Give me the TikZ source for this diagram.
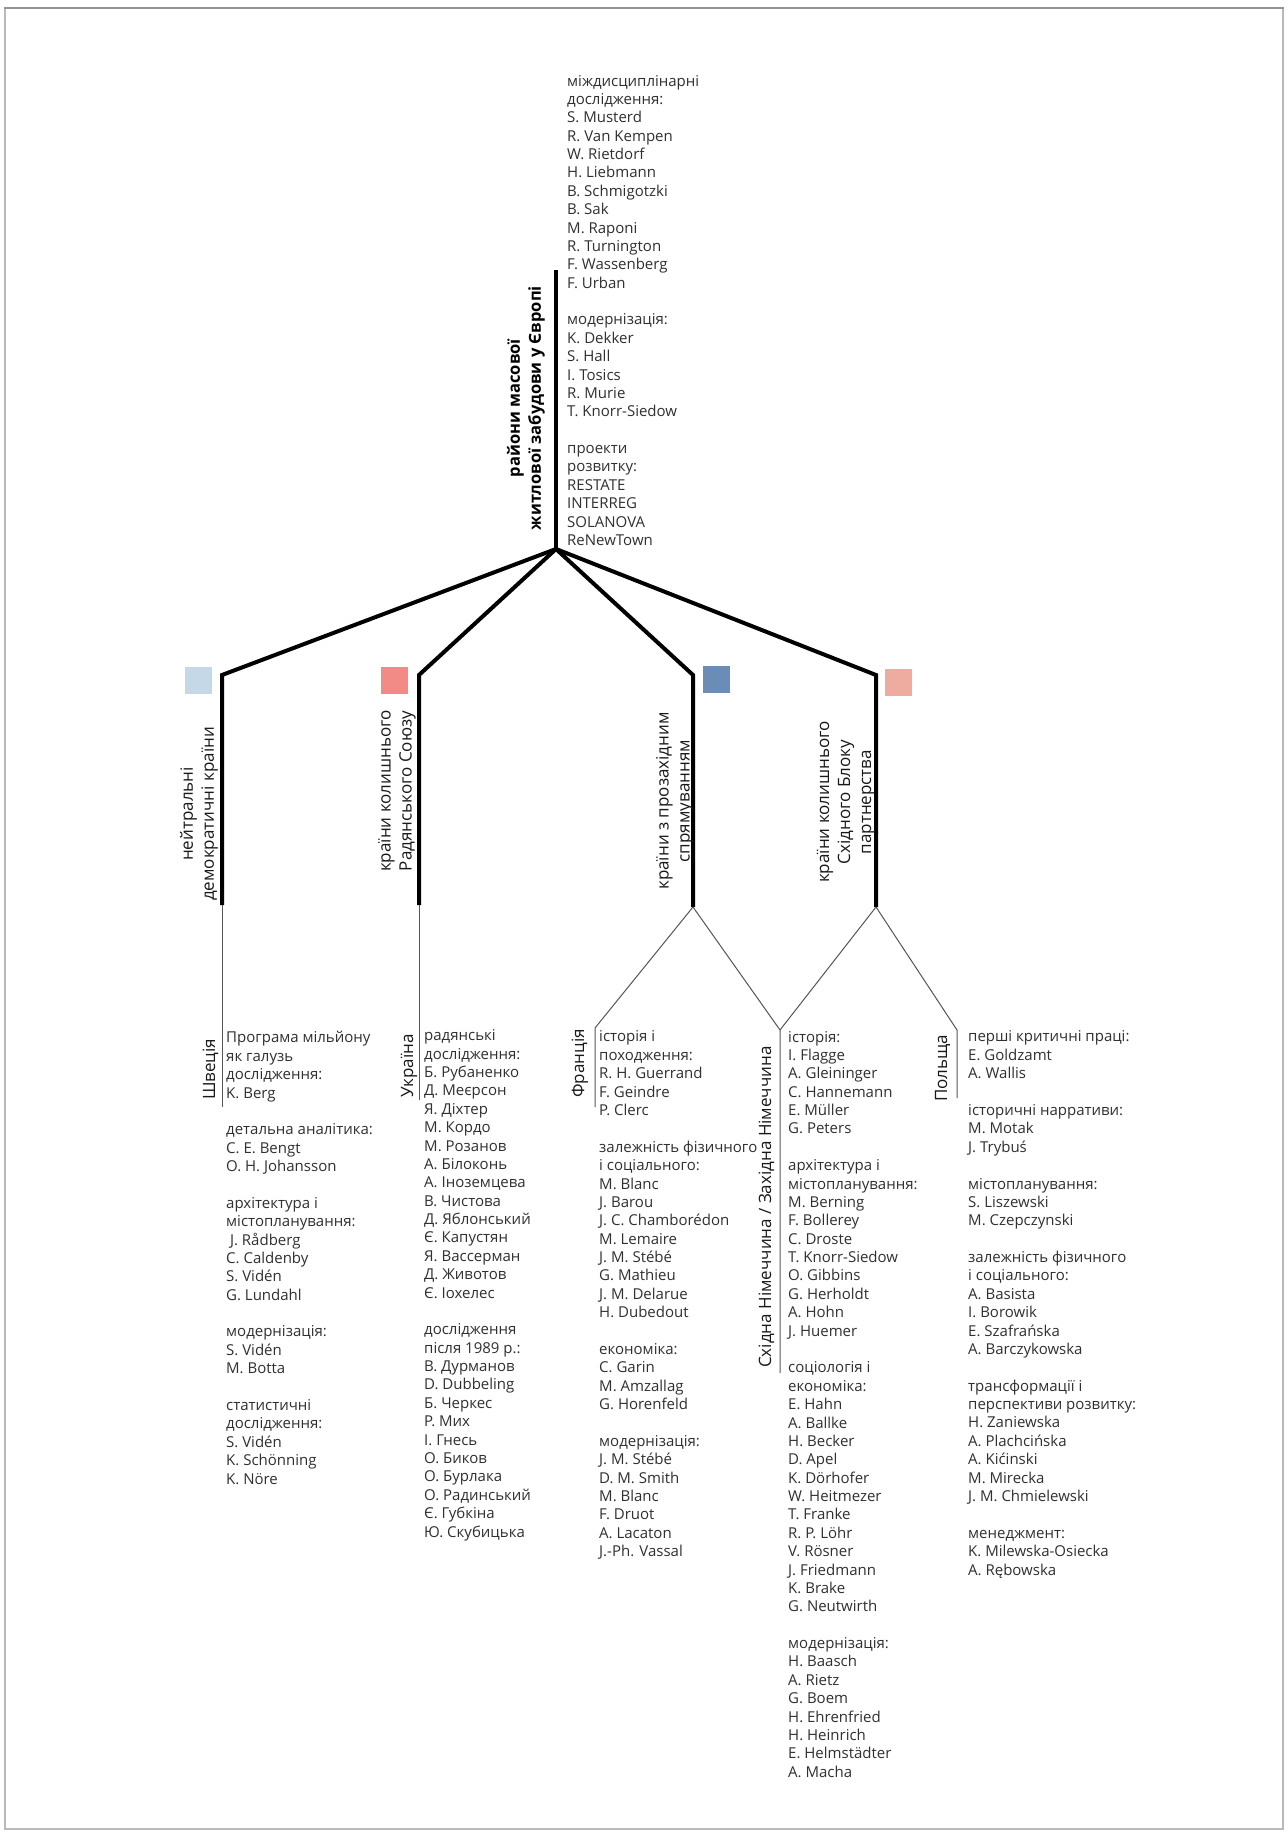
\documentclass[tikz,border=0pt]{standalone}
\usepackage{fontspec}
\setmainfont{Open Sans}
\newcommand\mylistfont{\fontsize{15}{18.38}\selectfont}
\newcommand\mylabelfont{\fontsize{17}{21}\selectfont}
\newcommand\mytitlefont{\fontsize{16.5}{21}\selectfont\bfseries}
\definecolor{txt}{HTML}{303030}
\definecolor{sqA}{HTML}{C5D8E8}
\definecolor{sqB}{HTML}{F28A85}
\definecolor{sqC}{HTML}{6B8CB6}
\definecolor{sqD}{HTML}{EEABA0}
\definecolor{thinc}{HTML}{555555}
\tikzset{
  lst/.style={anchor=base west, align=left, inner sep=0pt, font=\mylistfont, text=txt},
  grp/.style={rotate=90, align=center, inner sep=0pt, font=\mylabelfont, text=black!90},
  sub/.style={rotate=90, anchor=base west, inner sep=0pt, font=\mylabelfont, text=black!90},
  thickline/.style={line width=4pt, black, line join=miter, line cap=butt},
  thinline/.style={line width=1pt, thinc},
  sq/.style={draw=none, minimum size=27pt, inner sep=0pt},
}
\begin{document}
\begin{tikzpicture}[x=1pt,y=-1pt]
\useasboundingbox (0,0) rectangle (1287,1833);
\fill[white] (0,0) rectangle (1287,1833);
\draw[gray!55, line width=1.2pt] (5,8) rectangle (1283,1829);
\draw[gray!85, line width=2pt] (4,8) -- (1284,8);

% trunk and hubs
\coordinate (trunkTop) at (556,270);
\coordinate (hub) at (556,549);
\coordinate (c1) at (222,675); \coordinate (e1) at (222,905);
\coordinate (c2) at (419,675); \coordinate (e2) at (419,905);
\coordinate (c3) at (693,675); \coordinate (e3) at (693,907);
\coordinate (c4) at (876,675); \coordinate (e4) at (876,907);

\draw[thickline] (trunkTop) -- (hub);
\draw[thickline] (hub) -- (c1) -- (e1);
\draw[thickline] (hub) -- (c2) -- (e2);
\draw[thickline] (hub) -- (c3) -- (e3);
\draw[thickline] (hub) -- (c4) -- (e4);

% sub-branches
\coordinate (swEnd) at (222,1107);
\coordinate (uaEnd) at (419,1100);
\coordinate (frTop) at (595,1028); \coordinate (frEnd) at (595,1107);
\coordinate (deTop) at (780,1030); \coordinate (deEnd) at (780,1373);
\coordinate (plTop) at (957,1030); \coordinate (plEnd) at (957,1098);

\draw[thinline] (e1) -- (swEnd);
\draw[thinline] (e2) -- (uaEnd);
\draw[thinline] (e3) -- (frTop) -- (frEnd);
\draw[thinline] (e3) -- (deTop) -- (deEnd);
\draw[thinline] (e4) -- (deTop);
\draw[thinline] (e4) -- (plTop) -- (plEnd);

% title
\node[rotate=90, align=center, inner sep=0pt, font=\mytitlefont] (title) at (526,408)
  {райони масової\\житлової забудови у Європі};

% coloured squares
\node[sq, fill=sqA, anchor=north west] (sq1) at (185,667) {};
\node[sq, fill=sqB, anchor=north west] (sq2) at (381,667) {};
\node[sq, fill=sqC, anchor=north west] (sq3) at (703,666) {};
\node[sq, fill=sqD, anchor=north west] (sq4) at (885,669) {};

% group labels
\node[grp] (g1) at (199,814) {нейтральні\\демократичні країни};
\node[grp] (g2) at (397,791) {країни колишнього\\Радянського Союзу};
\node[grp] (g3) at (675,801) {країни з прозахідним\\спрямуванням};
\node[grp] (g4) at (846,802) {країни колишнього\\Східного Блоку\\партнерства};

% country labels
\node[sub] (lsw) at (215,1100) {Швеція};
\node[sub] (lua) at (413,1098) {Україна};
\node[sub] (lfr) at (584,1098) {Франція};
\node[sub] (lde) at (771,1368) {Східна Німеччина / Західна Німеччина};
\node[sub] (lpl) at (947,1102) {Польща};

% lists (anchor = baseline of the LAST line)
% top list
\node[lst] (toplist) at (567,545.5) {міждисциплінарні\\дослідження:\\S. Musterd\\R. Van Kempen\\W. Rietdorf\\H. Liebmann\\B. Schmigotzki\\B. Sak\\M. Raponi\\R. Turnington\\F. Wassenberg\\F. Urban\\[18.38pt]модернізація:\\K. Dekker\\S. Hall\\I. Tosics\\R. Murie\\T. Knorr-Siedow\\[18.38pt]проекти\\розвитку:\\RESTATE\\INTERREG\\SOLANOVA\\ReNewTown};

% Sweden
\node[lst] (swlist) at (226,1484) {Програма мільйону\\як галузь\\дослідження:\\K. Berg\\[18.38pt]детальна аналітика:\\C. E. Bengt\\O. H. Johansson\\[18.38pt]архітектура і\\містопланування:\\\ J. Rådberg\\C. Caldenby\\S. Vidén\\G. Lundahl\\[18.38pt]модернізація:\\S. Vidén\\M. Botta\\[18.38pt]статистичні\\дослідження:\\S. Vidén\\K. Schönning\\K. Nöre};

% Ukraine
\node[lst] (ualist) at (424,1537) {радянські\\дослідження:\\Б. Рубаненко\\Д. Меєрсон\\Я. Діхтер\\М. Кордо\\М. Розанов\\А. Білоконь\\А. Іноземцева\\В. Чистова\\Д. Яблонський\\Є. Капустян\\Я. Вассерман\\Д. Животов\\Є. Іохелес\\[18.38pt]дослідження\\після 1989 р.:\\В. Дурманов\\D. Dubbeling\\Б. Черкес\\Р. Мих\\І. Гнесь\\О. Биков\\О. Бурлака\\О. Радинський\\Є. Губкіна\\Ю. Скубицька};

% France
\node[lst] (frlist) at (599,1556.6) {історія і\\походження:\\R. H. Guerrand\\F. Geindre\\P. Clerc\\[18.38pt]залежність фізичного\\і соціального:\\M. Blanc\\J. Barou\\J. C. Chamborédon\\M. Lemaire\\J. M. Stébé\\G. Mathieu\\J. M. Delarue\\H. Dubedout\\[18.38pt]економіка:\\C. Garin\\M. Amzallag\\G. Horenfeld\\[18.38pt]модернізація:\\J. M. Stébé\\D. M. Smith\\M. Blanc\\F. Druot\\A. Lacaton\\J.-Ph. Vassal};

% Germany
\node[lst] (delist) at (788,1777.2) {історія:\\I. Flagge\\A. Gleininger\\C. Hannemann\\E. Müller\\G. Peters\\[18.38pt]архітектура і\\містопланування:\\M. Berning\\F. Bollerey\\C. Droste\\T. Knorr-Siedow\\O. Gibbins\\G. Herholdt\\A. Hohn\\J. Huemer\\[18.38pt]соціологія і\\економіка:\\E. Hahn\\A. Ballke\\H. Becker\\D. Apel\\K. Dörhofer\\W. Heitmezer\\T. Franke\\R. P. Löhr\\V. Rösner\\J. Friedmann\\K. Brake\\G. Neutwirth\\[18.38pt]модернізація:\\H. Baasch\\A. Rietz\\G. Boem\\H. Ehrenfried\\H. Heinrich\\E. Helmstädter\\A. Macha};

% Poland
\node[lst] (pllist) at (968,1575) {перші критичні праці:\\E. Goldzamt\\A. Wallis\\[18.38pt]історичні нарративи:\\M. Motak\\J. Trybuś\\[18.38pt]містопланування:\\S. Liszewski\\M. Czepczynski\\[18.38pt]залежність фізичного\\і соціального:\\A. Basista\\I. Borowik\\E. Szafrańska\\A. Barczykowska\\[18.38pt]трансформації і\\перспективи розвитку:\\H. Zaniewska\\A. Plachcińska\\A. Kićinski\\M. Mirecka\\J. M. Chmielewski\\[18.38pt]менеджмент:\\K. Milewska-Osiecka\\A. Rębowska};
\end{tikzpicture}
\end{document}
